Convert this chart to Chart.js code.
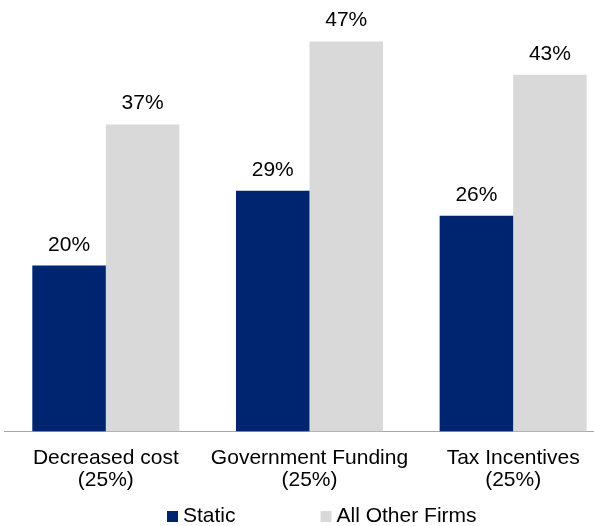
<!DOCTYPE html>
<html>
<head>
<meta charset="utf-8">
<script src="https://cdn.jsdelivr.net/npm/chart.js@4"></script>
<style>
  html, body { margin: 0; padding: 0; background: #fff; overflow: hidden; }
  #wrap { width: 615px; height: 526px; }
</style>
</head>
<body>
<div id="wrap"><canvas id="barChart"></canvas></div>
<script>
// Données
const categoryNames = ["Decreased cost", "Government Funding", "Tax Incentives"];
const categoryShares = ["(25%)", "(25%)", "(25%)"];
const seriesNames = ["Static", "All Other Firms"];
const staticValues = [20, 29, 26];
const otherFirmsValues = [37, 47, 43];

const FONT = '"Liberation Sans", Arial, sans-serif';

// Pourcentages au-dessus des barres
const valueLabels = {
  id: "valueLabels",
  afterDatasetsDraw(chart) {
    const ctx = chart.ctx;
    ctx.save();
    ctx.font = "21px " + FONT;
    ctx.fillStyle = "#000";
    ctx.textAlign = "center";
    ctx.textBaseline = "alphabetic";
    chart.data.datasets.forEach((ds, i) => {
      chart.getDatasetMeta(i).data.forEach((bar, j) => {
        ctx.fillText(ds.data[j] + "%", bar.x, bar.y - 15);
      });
    });
    ctx.restore();
  },
};

// Légende en bas, carrés + texte
const legendRow = {
  id: "legendRow",
  afterDraw(chart) {
    const ctx = chart.ctx;
    let x = 167;
    const y = 522;
    ctx.save();
    ctx.font = "21px " + FONT;
    ctx.textBaseline = "alphabetic";
    chart.data.datasets.forEach((ds) => {
      ctx.fillStyle = ds.backgroundColor;
      ctx.fillRect(x, y - 11, 11, 11);
      ctx.fillStyle = "#000";
      ctx.fillText(ds.label, x + 16, y);
      x += 16 + ctx.measureText(ds.label).width + 85;
    });
    ctx.restore();
  },
};

const barChart = document.querySelector("#barChart");
const myChart = new Chart(barChart, {
  type: "bar",
  data: {
    labels: categoryNames.map((name, i) => [name, categoryShares[i]]),
    datasets: [
      {
        label: seriesNames[0],
        data: staticValues,
        backgroundColor: "#002570",
      },
      {
        label: seriesNames[1],
        data: otherFirmsValues,
        backgroundColor: "#d9d9d9",
      },
    ],
  },
  options: {
    responsive: true,
    maintainAspectRatio: false,
    animation: false,
    layout: {
      padding: { left: 4, right: 0, top: 0, bottom: 19.4 },
    },
    datasets: {
      bar: {
        barPercentage: 1,
        categoryPercentage: 0.722,
      },
    },
    scales: {
      x: {
        grid: { display: false, drawTicks: false },
        border: { display: true, color: "#a6a6a6", width: 1 },
        ticks: {
          color: "#000",
          padding: 15.5,
          maxRotation: 0,
          font: { family: FONT, size: 21, lineHeight: 1.05 },
        },
      },
      y: {
        display: false,
        min: 0,
        max: 52,
      },
    },
    plugins: {
      legend: { display: false },
      tooltip: { enabled: false },
    },
  },
  plugins: [valueLabels, legendRow],
});
</script>
</body>
</html>
